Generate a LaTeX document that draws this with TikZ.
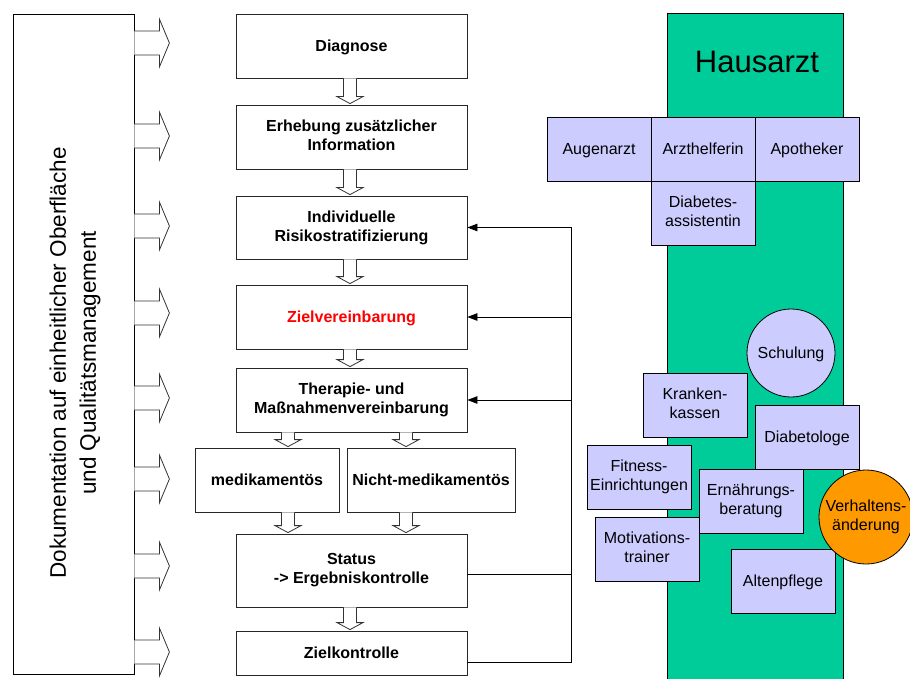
\documentclass[tikz,border=0pt]{standalone}
\usepackage{fontspec}
\setmainfont{Liberation Sans}
\usetikzlibrary{arrows.meta,calc,shadows}
\definecolor{hausgreen}{RGB}{0,204,153}
\definecolor{lavender}{RGB}{204,204,255}
\definecolor{verhorange}{RGB}{255,153,0}

% invisible strut with the font's full ascent and descent, so that text lines sit evenly
\newcommand{\linestrut}{\rule[-0.212em]{0pt}{1.117em}}

% hollow block arrow pointing down, at x = #1, from node #2 to node #3
\newcommand{\blkdown}[3]{%
  \draw[blockarrow] let \p1=(#2.south), \p2=(#3.north) in
    (#1pt-6.5pt,\y1) -- (#1pt-6.5pt,\y2+8pt) -- (#1pt-13pt,\y2+8pt) --
    (#1pt,\y2+1pt) -- (#1pt+13pt,\y2+8pt) -- (#1pt+6.5pt,\y2+8pt) -- (#1pt+6.5pt,\y1);}
% hollow block arrow pointing right out of the documentation bar, at height #1
\newcommand{\blkright}[1]{%
  \draw[blockarrow, shift={(doc.east |- 0,#1)}]
    (0,-12) -- (25,-12) -- (25,-24) -- (35,0) -- (25,24) -- (25,12) -- (0,12);}

\begin{document}
\begin{tikzpicture}[x=1pt,y=-1pt,
  boxshadow/.style={drop shadow={shadow xshift=1.2pt, shadow yshift=-1.2pt, fill=gray, opacity=0.6}},
  struts/.style={execute at begin node=\linestrut, execute at end node=\linestrut},
  flowbox/.style={draw=black!85, line width=0.8pt, fill=white, boxshadow, struts,
    minimum width=231pt, minimum height=64pt, inner sep=0pt, align=center,
    font=\fontsize{16}{19}\selectfont\bfseries},
  actor/.style={draw=black, line width=0.8pt, fill=lavender, boxshadow, struts,
    minimum width=104pt, minimum height=64pt, inner sep=0pt, align=center,
    font=\fontsize{16}{19}\selectfont},
  bubble/.style={circle, draw=black, line width=0.8pt, inner sep=0pt, align=center, struts,
    font=\fontsize{16}{19}\selectfont},
  blockarrow/.style={draw=black!80, line width=0.8pt, fill=white},
  fbline/.style={draw=black, line width=0.8pt},
  fbarrow/.style={fbline, -{Triangle[length=10pt,width=7.5pt]}}]

\useasboundingbox (0,0) rectangle (910,679);
\clip (0,0) rectangle (910,679);

% documentation bar
\node[draw=black, line width=0.8pt, fill=white, minimum width=121pt, minimum height=660pt,
      inner sep=0pt] (doc) at (73.5,344) {};
\node[rotate=90, align=center, font=\fontsize{22.5}{30}\selectfont] (doctext) at (75,363)
  {Dokumentation auf einheitlicher Oberfläche\\und Qualitätsmanagement};
\foreach \yy in {43,136,226,313,398,479,566,652} {\blkright{\yy}}

% care process
\node[flowbox] (diag) at (351.5,46) {Diagnose};
\node[flowbox] (erh) at (351.5,137) {Erhebung zusätzlicher\\Information};
\node[flowbox, minimum height=63pt] (indiv) at (351.5,227.5) {Individuelle\\Risikostratifizierung};
\node[flowbox, text=red] (zielv) at (351.5,317) {Zielvereinbarung};
\node[flowbox] (ther) at (351.5,400) {Therapie- und\\Maßnahmenvereinbarung};
\node[flowbox, minimum width=144pt] (med) at (267,480) {medikamentös};
\node[flowbox, minimum width=168pt] (nicht) at (431,480) {Nicht-medikamentös};
\node[flowbox, minimum height=73pt] (status) at (351.5,570.5) {Status\\-> Ergebniskontrolle};
\node[flowbox, minimum height=44pt] (zielk) at (351.5,653) {Zielkontrolle};

\blkdown{350}{diag}{erh}
\blkdown{350}{erh}{indiv}
\blkdown{350}{indiv}{zielv}
\blkdown{350}{zielv}{ther}
\blkdown{288}{ther}{med}
\blkdown{406}{ther}{nicht}
\blkdown{288}{med}{status}
\blkdown{406}{nicht}{status}
\blkdown{350}{status}{zielk}

% feedback loop
\coordinate (fb) at (571,0);
\coordinate (zkR) at ([yshift=-9pt]zielk.east);
\coordinate (stR) at ([yshift=-3.5pt]status.east);
\draw[fbarrow] (zkR) -| (fb |- indiv.east) -- (indiv.east);
\draw[fbline] (stR) -- (stR -| fb);
\draw[fbarrow] (fb |- zielv.east) -- (zielv.east);
\draw[fbarrow] (fb |- ther.east) -- (ther.east);

% general practitioner and partners
\fill[hausgreen] (667,13) rectangle (843,700);
\draw[line width=0.8pt] (667,700) -- (667,13) -- (843,13) -- (843,700);
\node[font=\fontsize{31}{36}\selectfont] (haus) at (757,62) {Hausarzt};

\node[actor] (aug) at (599,149) {Augenarzt};
\node[actor] (arz) at (703,149) {Arzthelferin};
\node[actor] (apo) at (807,149) {Apotheker};
\node[actor] (dass) at (703,213) {Diabetes-\\assistentin};

\node[bubble, fill=lavender, minimum size=88pt] (schul) at (791,353) {Schulung};
\node[actor] (kk) at (695,405) {Kranken-\\kassen};
\node[actor] (diab) at (807,437) {Diabetologe};
\node[actor] (fit) at (639,477) {Fitness-\\Einrichtungen};
\node[actor] (ern) at (751,501) {Ernährungs-\\beratung};
\node[actor] (mot) at (647,549) {Motivations-\\trainer};
\node[actor] (alt) at (783,581) {Altenpflege};
\node[bubble, fill=verhorange, minimum size=94pt] (verh) at (866,517) {Verhaltens-\\änderung};

\end{tikzpicture}
\end{document}
